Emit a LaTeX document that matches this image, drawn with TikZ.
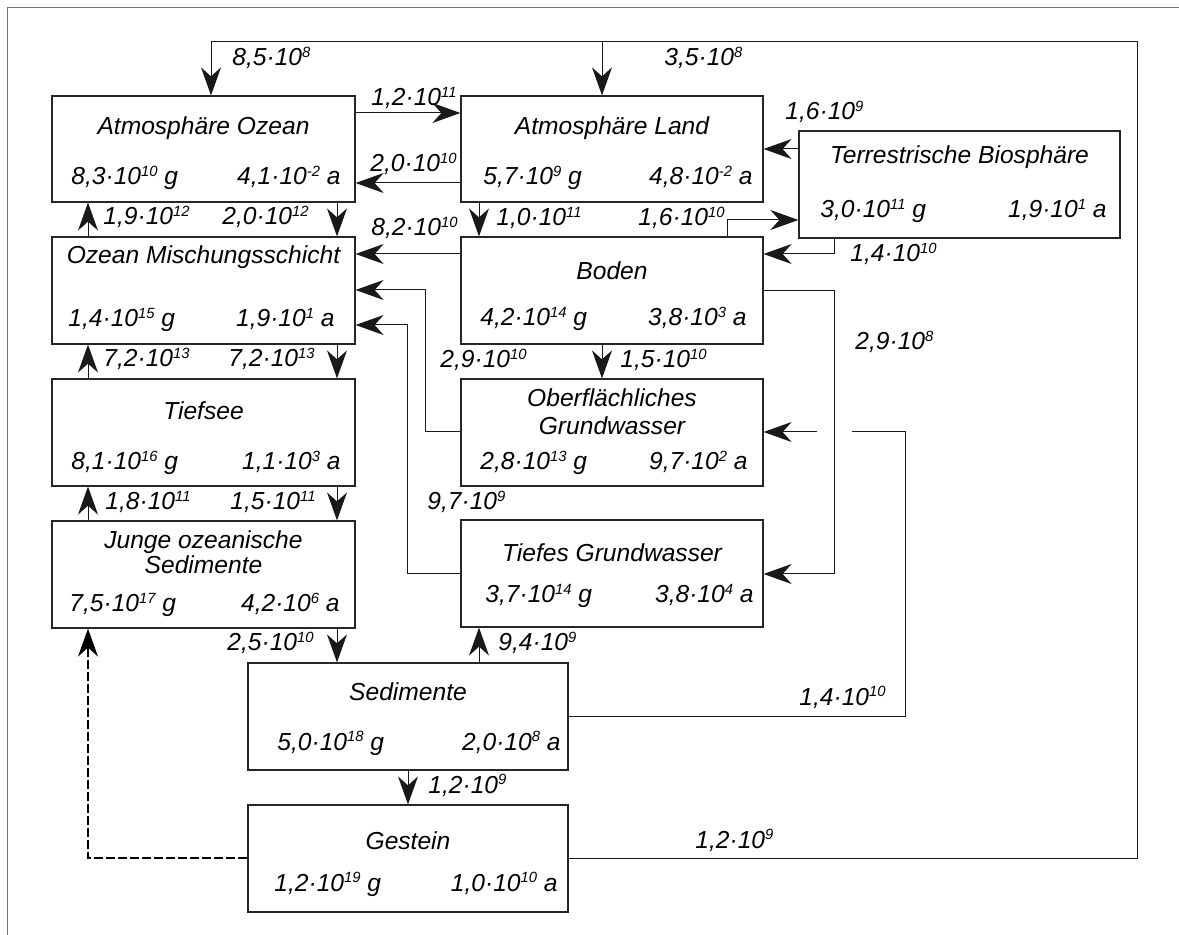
\documentclass[tikz,border=0pt]{standalone}
\usepackage{fontspec}
\setmainfont{Liberation Sans}
\usetikzlibrary{arrows.meta,fit}
\newcommand{\ep}[1]{\raisebox{4.4pt}{\fontsize{7.4}{8}\selectfont\itshape #1}}
\begin{document}
\begin{tikzpicture}[x=0.5pt,y=-0.5pt,
  box/.style={draw=black!85, line width=0.6pt, inner sep=0pt},
  lbl/.style={inner sep=0pt, font=\fontsize{12.3}{14}\selectfont\itshape},
  title/.style={lbl, anchor=base},
  valg/.style={lbl, anchor=base west},
  vala/.style={lbl, anchor=base east},
  flowlbl/.style={lbl, anchor=base west},
  conn/.style={draw=black!90, line width=0.5pt},
  flow/.style={conn, -{Stealth[length=14pt,width=10pt,inset=4.5pt]}},
  dflow/.style={draw=black, line width=0.75pt, dash pattern=on 4.5pt off 1.5pt, -{Stealth[length=14pt,width=10pt,inset=4.5pt]}},
  frame/.style={draw=black!55, line width=0.6pt}
]
\useasboundingbox (0,0) rectangle (1179,935);
\fill[white] (0,0) rectangle (1179,935);
\draw[frame] (7.5,935) -- (7.5,7.5) -- (1179,7.5);

% boxes
\node[box, fit={(52,96) (355,202)}] (ao) {};
\node[box, fit={(461,96) (763,202)}] (al) {};
\node[box, fit={(799,131) (1120,238)}] (tb) {};
\node[box, fit={(52,237) (355,344)}] (om) {};
\node[box, fit={(461,237) (763,344)}] (boden) {};
\node[box, fit={(52,379) (355,486)}] (ts) {};
\node[box, fit={(461,379) (763,486)}] (og) {};
\node[box, fit={(52,521) (355,628)}] (jos) {};
\node[box, fit={(461,520) (763,627)}] (tg) {};
\node[box, fit={(248,663) (568,770)}] (sed) {};
\node[box, fit={(248,805) (568,912)}] (gest) {};

% box texts
\node[title] (ao-t) at (203.5,135) {Atmosphäre Ozean};
\node[valg] (ao-g) at (71,185) {8,3·10\ep{10} g};
\node[vala] (ao-a) at (341,185) {4,1·10\ep{-2} a};

\node[title] (al-t) at (612,135) {Atmosphäre Land};
\node[valg] (al-g) at (483,185) {5,7·10\ep{9} g};
\node[vala] (al-a) at (753,185) {4,8·10\ep{-2} a};

\node[title] (tb-t) at (959.5,164) {Terrestrische Biosphäre};
\node[valg] (tb-g) at (820,218) {3,0·10\ep{11} g};
\node[vala] (tb-a) at (1107,218) {1,9·10\ep{1} a};

\node[title] (om-t) at (203.5,264) {Ozean Mischungsschicht};
\node[valg] (om-g) at (68,327) {1,4·10\ep{15} g};
\node[vala] (om-a) at (335,327) {1,9·10\ep{1} a};

\node[title] (boden-t) at (612,280) {Boden};
\node[valg] (boden-g) at (480,326) {4,2·10\ep{14} g};
\node[vala] (boden-a) at (747,326) {3,8·10\ep{3} a};

\node[title] (ts-t) at (203.5,420) {Tiefsee};
\node[valg] (ts-g) at (71,470) {8,1·10\ep{16} g};
\node[vala] (ts-a) at (341,470) {1,1·10\ep{3} a};

\node[title] (og-t1) at (612,407) {Oberflächliches};
\node[title] (og-t2) at (612,435) {Grundwasser};
\node[valg] (og-g) at (480,470) {2,8·10\ep{13} g};
\node[vala] (og-a) at (748,470) {9,7·10\ep{2} a};

\node[title] (jos-t1) at (203.5,549) {Junge ozeanische};
\node[title] (jos-t2) at (203.5,574) {Sedimente};
\node[valg] (jos-g) at (69,612) {7,5·10\ep{17} g};
\node[vala] (jos-a) at (340,612) {4,2·10\ep{6} a};

\node[title] (tg-t) at (612,562) {Tiefes Grundwasser};
\node[valg] (tg-g) at (485,603) {3,7·10\ep{14} g};
\node[vala] (tg-a) at (754,603) {3,8·10\ep{4} a};

\node[title] (sed-t) at (408,700) {Sedimente};
\node[valg] (sed-g) at (277,750) {5,0·10\ep{18} g};
\node[vala] (sed-a) at (561,750) {2,0·10\ep{8} a};

\node[title] (gest-t) at (408,849) {Gestein};
\node[valg] (gest-g) at (274,891) {1,2·10\ep{19} g};
\node[vala] (gest-a) at (558,891) {1,0·10\ep{10} a};

% helper coordinates
\coordinate (loopL) at (211,42);
\coordinate (loopM) at (602,42);
\coordinate (loopTR) at (1137,42);
\coordinate (loopBR) at (1137,858);
\coordinate (ogbend) at (425.5,290);
\coordinate (tgbend) at (407.5,325);
\coordinate (bdbend) at (834.5,574);
\coordinate (sedbend) at (905,432);
\coordinate (jumpR) at (852,432);
\coordinate (jumpL) at (817,432);

% connectors
\draw[conn] (gest.east |- loopBR) -- (loopBR) -- (loopTR) -- (loopL);
\draw[flow] (loopL) -- (ao.north -| loopL);
\draw[flow] (loopM) -- (al.north -| loopM);

\draw[flow] (ao.east |- 0,113) -- (al.west |- 0,113);
\draw[flow] (al.west |- 0,183) -- (ao.east |- 0,183);
\draw[flow] (tb.west |- 0,149) -- (al.east |- 0,149);

\draw[flow] (ao.south -| 337,0) -- (om.north -| 337,0);
\draw[flow] (om.north -| 88,0) -- (ao.south -| 88,0);
\draw[flow] (al.south -| 479,0) -- (boden.north -| 479,0);

\draw[flow] (boden.north -| 727,0) |- (tb.west |- 0,220);
\draw[flow] (tb.south -| 834.5,0) |- (boden.east |- 0,254);
\draw[flow] (boden.west |- 0,254) -- (om.east |- 0,254);

\draw[flow] (og.west |- 0,432) -| (ogbend) -- (om.east |- ogbend);
\draw[flow] (tg.west |- 0,574) -| (tgbend) -- (om.east |- tgbend);

\draw[flow] (boden.south -| 602,0) -- (og.north -| 602,0);
\draw[flow] (boden.east |- 0,291) -| (bdbend) -- (tg.east |- bdbend);

\draw[conn] (sed.east |- 0,716) -| (sedbend) -- (jumpR);
\draw[flow] (jumpL) -- (og.east |- jumpL);

\draw[flow] (om.south -| 337,0) -- (ts.north -| 337,0);
\draw[flow] (ts.north -| 88,0) -- (om.south -| 88,0);
\draw[flow] (ts.south -| 337,0) -- (jos.north -| 337,0);
\draw[flow] (jos.north -| 88,0) -- (ts.south -| 88,0);

\draw[flow] (jos.south -| 337,0) -- (sed.north -| 337,0);
\draw[flow] (sed.north -| 479,0) -- (tg.south -| 479,0);
\draw[flow] (sed.south -| 408,0) -- (gest.north -| 408,0);

\draw[dflow] (gest.west |- 0,858) -| (jos.south -| 88,0);

% flow labels
\node[flowlbl] (f1) at (232,66) {8,5·10\ep{8}};
\node[flowlbl] (f2) at (664,66) {3,5·10\ep{8}};
\node[flowlbl] (f3) at (371,106) {1,2·10\ep{11}};
\node[flowlbl] (f4) at (370,172) {2,0·10\ep{10}};
\node[flowlbl] (f5) at (785,120) {1,6·10\ep{9}};
\node[flowlbl] (f6) at (103,225) {1,9·10\ep{12}};
\node[flowlbl] (f7) at (222,225) {2,0·10\ep{12}};
\node[flowlbl] (f8) at (496,226) {1,0·10\ep{11}};
\node[flowlbl] (f9) at (638,226) {1,6·10\ep{10}};
\node[flowlbl] (f10) at (371,236) {8,2·10\ep{10}};
\node[flowlbl] (f11) at (850,262) {1,4·10\ep{10}};
\node[flowlbl] (f12) at (855,350) {2,9·10\ep{8}};
\node[flowlbl] (f13) at (103,367) {7,2·10\ep{13}};
\node[flowlbl] (f14) at (228,367) {7,2·10\ep{13}};
\node[flowlbl] (f15) at (440,368) {2,9·10\ep{10}};
\node[flowlbl] (f16) at (620,368) {1,5·10\ep{10}};
\node[flowlbl] (f17) at (105,510) {1,8·10\ep{11}};
\node[flowlbl] (f18) at (230,510) {1,5·10\ep{11}};
\node[flowlbl] (f19) at (427,510) {9,7·10\ep{9}};
\node[flowlbl] (f20) at (227,651) {2,5·10\ep{10}};
\node[flowlbl] (f21) at (498,651) {9,4·10\ep{9}};
\node[flowlbl] (f22) at (799,705) {1,4·10\ep{10}};
\node[flowlbl] (f23) at (428,793) {1,2·10\ep{9}};
\node[flowlbl] (f24) at (695,848) {1,2·10\ep{9}};
\end{tikzpicture}
\end{document}
